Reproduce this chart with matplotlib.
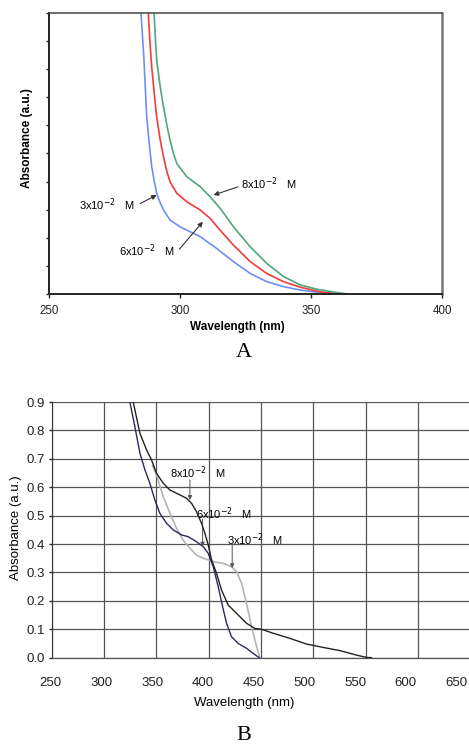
import matplotlib
matplotlib.use('Agg')
import matplotlib.pyplot as plt
from matplotlib.transforms import ScaledTranslation

plt.rcParams['font.family'] = ['Liberation Sans', 'DejaVu Sans']

# ---- panel A data (arbitrary absorbance, 0..1) ----
a_blue_x = [285.1, 285.6, 286.2, 287.3, 288.3, 289.2, 290.2, 291.1, 292.4, 293.7,
            296.2, 300.0, 307.7, 314.0, 320.4, 326.8, 333.1, 339.5, 345.9, 353.5, 359.9]
a_blue_y = [1.0, 0.93, 0.84, 0.63, 0.53, 0.453, 0.40, 0.358, 0.325, 0.299,
            0.263, 0.239, 0.204, 0.162, 0.115, 0.073, 0.044, 0.026, 0.014, 0.005, 0.0]

a_red_x = [287.9, 288.5, 289.2, 290.1, 291.1, 292.4, 293.7, 295.0, 296.2, 298.8,
           302.6, 307.7, 311.5, 315.3, 320.4, 326.8, 333.1, 339.5, 345.9, 353.5, 360.5]
a_red_y = [1.0, 0.90, 0.808, 0.72, 0.63, 0.55, 0.488, 0.435, 0.399, 0.358,
           0.328, 0.299, 0.269, 0.227, 0.174, 0.115, 0.073, 0.044, 0.024, 0.008, 0.0]

a_green_x = [290.1, 290.6, 291.1, 292.4, 293.7, 295.0, 296.2, 297.5, 298.8, 302.6,
             307.7, 311.5, 315.3, 320.4, 326.8, 333.1, 339.5, 345.9, 352.2, 358.6, 363.7]
a_green_y = [1.0, 0.91, 0.832, 0.74, 0.666, 0.60, 0.547, 0.50, 0.464, 0.417,
             0.382, 0.346, 0.305, 0.239, 0.168, 0.109, 0.062, 0.032, 0.017, 0.007, 0.0]

a_xticks = [250, 300, 350, 400]

# ---- panel B data ----
b8_x = [328.0, 334.4, 340.8, 345.5, 350.3, 356.7, 363.1, 372.6, 379.0, 383.8,
        388.5, 393.3, 396.5, 399.7, 402.9, 407.6, 412.4, 418.8, 426.8, 436.3,
        444.3, 450.6, 461.8, 477.7, 493.6, 509.6, 525.5, 541.4, 551.0, 555.7]
b8_y = [0.9, 0.79, 0.731, 0.696, 0.649, 0.614, 0.590, 0.573, 0.561, 0.543,
        0.514, 0.473, 0.438, 0.397, 0.344, 0.297, 0.238, 0.185, 0.156, 0.121,
        0.103, 0.100, 0.086, 0.068, 0.048, 0.036, 0.025, 0.009, 0.001, 0.0]

b6_x = [324.8, 329.6, 334.4, 339.2, 343.9, 348.7, 353.5, 359.9, 366.2, 374.2,
        380.6, 388.5, 394.9, 399.7, 404.5, 409.2, 413.4, 417.2, 421.9, 428.3,
        436.3, 442.7, 448.4]
b6_y = [0.9, 0.813, 0.72, 0.661, 0.614, 0.555, 0.508, 0.473, 0.450, 0.432,
        0.426, 0.408, 0.391, 0.367, 0.320, 0.250, 0.180, 0.121, 0.074, 0.050,
        0.033, 0.015, 0.0]

b3_x = [346.5, 350.3, 356.7, 363.1, 369.4, 375.8, 382.2, 388.5, 394.9, 404.5,
        414.0, 422.0, 426.8, 431.5, 436.3, 441.1, 445.9, 449.0]
b3_y = [0.675, 0.643, 0.567, 0.508, 0.455, 0.414, 0.385, 0.361, 0.350, 0.338,
        0.332, 0.320, 0.303, 0.262, 0.191, 0.109, 0.039, 0.0]

b_xticks = [250, 300, 350, 400, 450, 500, 550, 600, 650]
b_yticks = [0.0, 0.1, 0.2, 0.3, 0.4, 0.5, 0.6, 0.7, 0.8, 0.9]

fig = plt.figure(figsize=(4.69, 7.45), dpi=100)

# ================= panel A =================
ax = fig.add_axes([0.1045, 0.6054, 0.838, 0.3772])
ax.plot(a_blue_x, a_blue_y, color='#6e8ff5', lw=1.2)
ax.plot(a_red_x, a_red_y, color='#f03c3c', lw=1.2)
ax.plot(a_green_x, a_green_y, color='#4fa77a', lw=1.2)
ax.set_xlim(250, 400)
ax.set_ylim(0, 1)
ax.set_xticks(a_xticks)
ax.set_yticks([i / 10 for i in range(11)])
ax.set_yticklabels([])
ax.tick_params(axis='x', length=3, width=1, pad=5, labelsize=8.3, colors='#222222')
ax.tick_params(axis='y', length=2.5, width=1, colors='#222222')
ax.spines['left'].set_color('#222222')
ax.spines['left'].set_linewidth(1.4)
ax.spines['bottom'].set_color('#222222')
ax.spines['bottom'].set_linewidth(1.4)
ax.spines['top'].set_color('#444444')
ax.spines['top'].set_linewidth(1.1)
ax.spines['right'].set_color('#777777')
ax.spines['right'].set_linewidth(1.8)
ax.set_xlabel('Wavelength (nm)', fontsize=8.5, fontweight='bold')
ax.xaxis.set_label_coords(0.478, -0.095)
ax.set_ylabel('Absorbance (a.u.)', fontsize=8.5, fontweight='bold')
ax.yaxis.set_label_coords(-0.04, 0.555)

arr = dict(arrowstyle='-|>', color='#333333', lw=0.8, mutation_scale=7,
           shrinkA=0, shrinkB=0)
ax.annotate('3x10$^{-2}$   M', xy=(291.1, 0.352), xytext=(261.5, 0.316),
            fontsize=8, va='center', arrowprops=dict(arr, relpos=(1.1, 0.6)))
ax.annotate('8x10$^{-2}$   M', xy=(312.8, 0.352), xytext=(323.2, 0.393),
            fontsize=8, va='center', arrowprops=dict(arr, relpos=(-0.05, 0.3)))
ax.annotate('6x10$^{-2}$   M', xy=(308.7, 0.257), xytext=(276.9, 0.154),
            fontsize=8, va='center', arrowprops=dict(arr, relpos=(1.08, 0.6)))

fig.text(0.520, 0.527, 'A', fontsize=16, family='Liberation Serif',
         ha='center', va='center')

# ================= panel B =================
bx = fig.add_axes([0.110, 0.1172, 0.8925, 0.3432])
bx.plot(b6_x, b6_y, color='#2a2a5c', lw=1.0, zorder=3)
bx.plot(b3_x, b3_y, color='#b4b4b4', lw=1.2, zorder=2)
bx.plot(b8_x, b8_y, color='#222222', lw=1.0, zorder=4)
bx.set_xlim(250, 650)
bx.set_ylim(0, 0.9)
bx.set_xticks(b_xticks)
bx.set_yticks(b_yticks)
bx.set_yticklabels(['%.1f' % v for v in b_yticks])
bx.grid(True, color='#555555', lw=0.9)
bx.set_axisbelow(True)
bx.tick_params(axis='x', length=0, pad=14, labelsize=9.5, colors='#222222')
bx.tick_params(axis='y', length=2.5, width=1, pad=2, labelsize=9.5, colors='#222222')
# the x labels in the original drift slightly left of their grid lines
for lab, v in zip(bx.get_xticklabels(), b_xticks):
    dx = -((v - 250) / 400 * 12.7 + 1) / 100
    lab.set_transform(lab.get_transform() + ScaledTranslation(dx, 0, fig.dpi_scale_trans))
for s in ['top', 'right']:
    bx.spines[s].set_visible(False)
bx.spines['left'].set_color('#333333')
bx.spines['bottom'].set_color('#555555')
bx.spines['bottom'].set_linewidth(0.9)
bx.set_xlabel('Wavelength (nm)', fontsize=9.5)
bx.xaxis.set_label_coords(0.459, -0.154)
bx.set_ylabel('Absorbance (a.u.)', fontsize=9.5)
bx.yaxis.set_label_coords(-0.071, 0.509)

arr_b = dict(arrowstyle='-|>', color='#555555', lw=0.7, mutation_scale=6,
             shrinkA=0, shrinkB=0)
bx.annotate('', xy=(382.2, 0.555), xytext=(382.2, 0.626), arrowprops=arr_b)
bx.text(363.1, 0.651, '8x10$^{-2}$   M', fontsize=8, va='center')
bx.annotate('', xy=(394.3, 0.391), xytext=(394.3, 0.487), arrowprops=arr_b)
bx.text(387.9, 0.506, '6x10$^{-2}$   M', fontsize=8, va='center')
bx.annotate('', xy=(422.6, 0.315), xytext=(422.6, 0.397), arrowprops=arr_b)
bx.text(417.2, 0.414, '3x10$^{-2}$   M', fontsize=8, va='center')

fig.text(0.520, 0.0134, 'B', fontsize=16, family='Liberation Serif',
         ha='center', va='center')

fig.savefig('out.png', dpi=100)
